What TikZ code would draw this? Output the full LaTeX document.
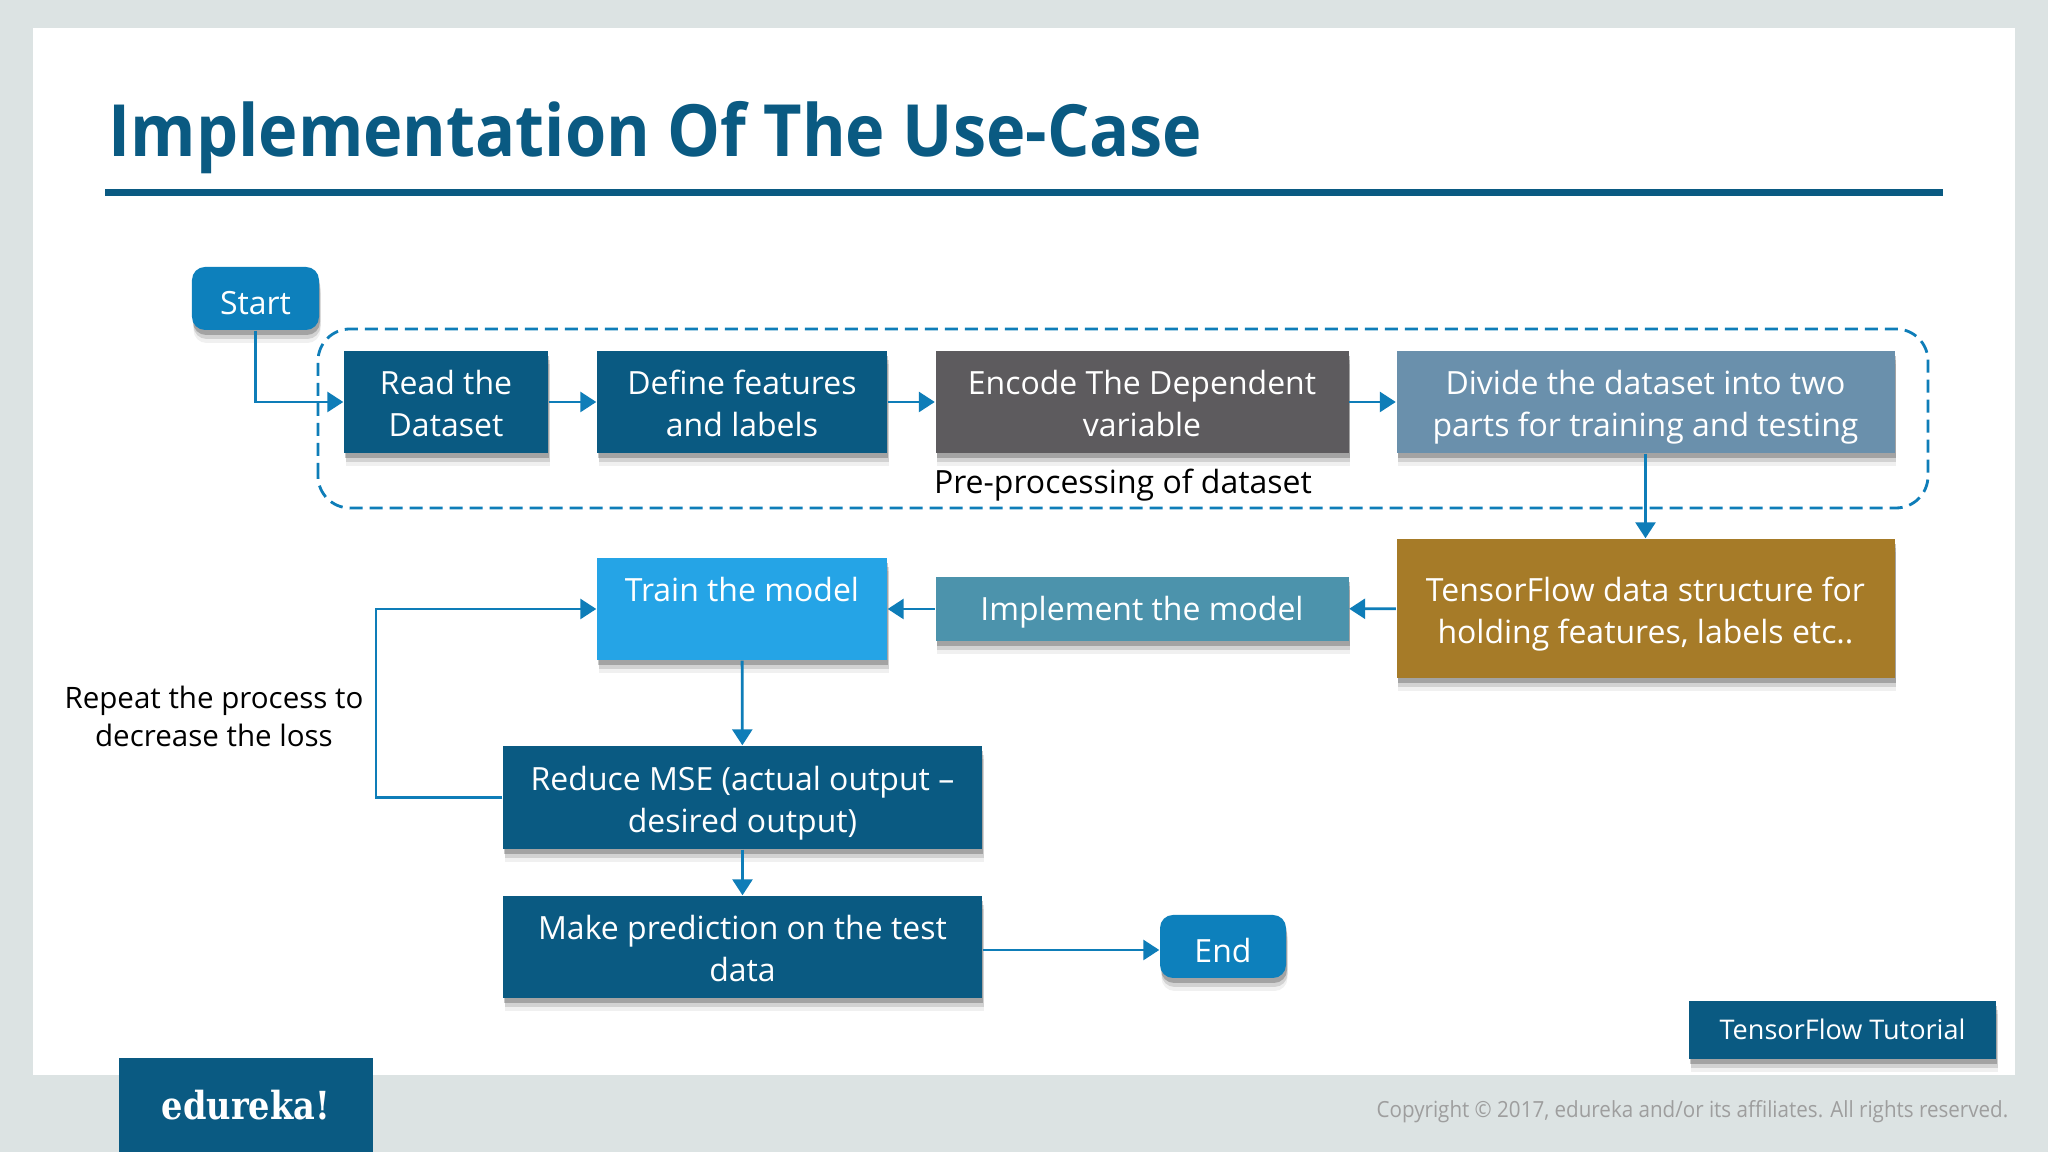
\documentclass[tikz,border=0pt]{standalone}
\usepackage{fontspec}
\setmainfont{Open Sans}
\newfontfamily\narrowfont[FakeStretch=0.925]{Open Sans}
\newfontfamily\logofont[FakeStretch=0.87]{DejaVu Serif}
\usetikzlibrary{arrows.meta,shadows}
\definecolor{slidegrey}{HTML}{DCE3E3}
\definecolor{deepblue}{HTML}{0A5A82}
\definecolor{startblue}{HTML}{0D80BC}
\definecolor{encodegrey}{HTML}{5D5B5E}
\definecolor{divideblue}{HTML}{6A90AC}
\definecolor{tfbrown}{HTML}{A67B28}
\definecolor{implblue}{HTML}{4C93AC}
\definecolor{trainblue}{HTML}{25A4E6}
\definecolor{flowblue}{HTML}{0E7DB8}
\newcommand{\oneline}[2][0.4cm]{\rule{0pt}{#1}#2\strut}
\newcommand{\twolines}[2]{\oneline{#1}\\\strut #2}
\tikzset{
  softshadow/.style={
    drop shadow={shadow xshift=0.015cm,shadow yshift=-0.13cm,opacity=.06,fill=black},
    drop shadow={shadow xshift=0.015cm,shadow yshift=-0.09cm,opacity=.12,fill=black},
    drop shadow={shadow xshift=0.01cm,shadow yshift=-0.05cm,opacity=.22,fill=black}},
  flatnode/.style={fill=deepblue,text=white,align=center,inner sep=0pt,font=\fontsize{9.1}{11.9}\selectfont},
  boxnode/.style={flatnode,softshadow},
  pillnode/.style={boxnode,fill=startblue,rounded corners=0.13cm,text height=0.32cm,text depth=0cm},
  flow/.style={draw=flowblue,line width=0.8pt,-{Triangle[length=0.16cm,width=0.2cm]}},
  plain/.style={text=black,align=center,inner sep=0pt,font=\fontsize{9.1}{10.8}\selectfont}
}
\begin{document}
\begin{tikzpicture}[x=1cm,y=1cm]
    \useasboundingbox (0,0) rectangle (20.48,11.52);
    \fill[slidegrey] (0,0) rectangle (20.48,11.52);
    \fill[white] (0.33,0.77) rectangle (20.15,11.24);
    % title
    \node[anchor=base west,text=deepblue,inner sep=0pt,font=\narrowfont\fontsize{20.5}{24}\selectfont\bfseries] (title) at (1.08,9.95) {Implementation Of The Use-Case};
    \fill[deepblue] (1.05,9.56) rectangle (19.43,9.63);
    % dashed group
    \draw[draw=flowblue,line width=0.8pt,dash pattern=on 0.13cm off 0.07cm,rounded corners=0.32cm] (3.18,6.44) rectangle (19.28,8.23);
    % first row
    \node[pillnode,minimum width=1.27cm,minimum height=0.63cm] (start) at (2.555,8.535) {Start};
    \node[boxnode,minimum width=2.04cm,minimum height=1.02cm] (read) at (4.46,7.50) {\twolines{Read the}{Dataset}};
    \node[boxnode,minimum width=2.90cm,minimum height=1.02cm] (define) at (7.42,7.50) {\twolines{Define features}{and labels}};
    \node[boxnode,fill=encodegrey,minimum width=4.13cm,minimum height=1.02cm] (encode) at (11.42,7.50) {\twolines{Encode The Dependent}{variable}};
    \node[boxnode,fill=divideblue,minimum width=4.98cm,minimum height=1.02cm] (divide) at (16.455,7.50) {\twolines{Divide the dataset into two}{parts for training and testing}};
    \node[plain] (prep) at (11.23,6.66) {\strut Pre-processing of dataset};
    % second row
    \node[boxnode,fill=tfbrown,minimum width=4.98cm,minimum height=1.39cm] (tf) at (16.455,5.435) {\twolines{TensorFlow data structure for}{holding features, labels etc..}};
    \node[boxnode,fill=implblue,minimum width=4.13cm,minimum height=0.64cm] (impl) at (11.42,5.43) {\oneline[0.36cm]{Implement the model}};
    \node[boxnode,fill=trainblue,minimum width=2.90cm,minimum height=1.02cm] (train) at (7.42,5.43) {\twolines{Train the model}{\mbox{}}};
    % lower boxes
    \node[boxnode,minimum width=4.79cm,minimum height=1.03cm] (reduce) at (7.425,3.545) {\twolines{Reduce MSE (actual output --}{desired output)}};
    \node[boxnode,minimum width=4.79cm,minimum height=1.02cm] (make) at (7.425,2.05) {\twolines{Make prediction on the test}{data}};
    \node[pillnode,minimum width=1.26cm,minimum height=0.63cm] (end) at (12.23,2.055) {End};
    \node[plain,font=\fontsize{8.4}{10.8}\selectfont] (repeat) at (2.14,4.39) {\twolines{Repeat the process to}{decrease the loss}};
    \coordinate (loop) at (3.76,3.545);
    % connectors
    \draw[flow] (start.south) |- (read.west);
    \draw[flow] (read) -- (define);
    \draw[flow] (define) -- (encode);
    \draw[flow] (encode) -- (divide);
    \draw[flow] (divide) -- (tf);
    \draw[flow] (tf) -- (impl);
    \draw[flow] (impl) -- (train);
    \draw[flow] (train) -- (reduce);
    \draw[flow] (reduce) -- (make);
    \draw[flow] ([yshift=-0.03cm]make.east) -- ([yshift=-0.03cm]make.east -| end.west);
    \draw[flow] (reduce.west) -- (loop) |- (train.west);
    % footer
    \node[boxnode,minimum width=3.07cm,minimum height=0.58cm,font=\fontsize{7.7}{10}\selectfont] (tutorial) at (18.425,1.22) {\oneline[0.3cm]{TensorFlow Tutorial}};
    \node[flatnode,minimum width=2.54cm,minimum height=0.94cm,font=\logofont\fontsize{11}{14}\selectfont\bfseries] (logo) at (2.46,0.47) {edureka!};
    \node[anchor=east,inner sep=0pt,text=black!38,font=\narrowfont\fontsize{6.33}{8}\selectfont] (copyright) at (20.09,0.40) {Copyright © 2017, edureka and/or its affiliates. All rights reserved.};
\end{tikzpicture}
\end{document}
